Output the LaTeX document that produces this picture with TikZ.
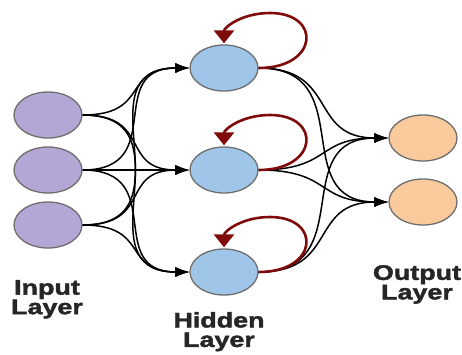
\documentclass[tikz,border=0pt]{standalone}
\usepackage{fontspec}
\usetikzlibrary{arrows.meta,shapes.geometric}
\newfontfamily\lblfont[FakeStretch=1.28,FakeBold=2]{Liberation Sans}
\definecolor{inpurple}{HTML}{B4A7D6}
\definecolor{hidblue}{HTML}{9FC5E8}
\definecolor{outorange}{HTML}{F9CB9C}
\definecolor{rimgray}{HTML}{6E6E6E}
\definecolor{loopred}{HTML}{7F0A0A}
\tikzset{
  neuron/.style={ellipse, draw=rimgray, line width=1.3pt, minimum width=68pt, minimum height=46pt, inner sep=0pt},
  inneuron/.style={neuron, fill=inpurple},
  hidneuron/.style={neuron, fill=hidblue},
  outneuron/.style={neuron, fill=outorange},
  link/.style={line width=1.5pt, -{Latex[length=14pt,width=10pt]}},
  recur/.style={draw=loopred, line width=2.6pt, -{Triangle[length=13pt,width=20pt]}},
  layerlabel/.style={font=\lblfont\bfseries\fontsize{21}{19.5}\selectfont, align=center, inner sep=0pt, anchor=north, text=black!85}
}
\begin{document}
\begin{tikzpicture}[x=1pt, y=-1pt]
  \useasboundingbox[fill=white] (0,0) rectangle (462,354);

  % input layer
  \node[inneuron] (i1) at (48,115) {};
  \node[inneuron] (i2) at (48,170) {};
  \node[inneuron] (i3) at (48,225) {};

  % hidden layer
  \node[hidneuron] (h1) at (224,68) {};
  \node[hidneuron] (h2) at (224,170) {};
  \node[hidneuron] (h3) at (224,272) {};

  % output layer
  \node[outneuron] (o1) at (423,138) {};
  \node[outneuron] (o2) at (423,202) {};

  % input -> hidden connections
  \foreach \i in {i1,i2,i3}
    \foreach \h in {h1,h2,h3}
      \draw[link] (\i.east) to[out=0,in=180,looseness=1.5] (\h.west);

  % hidden -> output connections
  \foreach \h in {h1,h2,h3}
    \foreach \o in {o1,o2}
      \draw[link] (\h.east) to[out=0,in=180,looseness=1.4] (\o.west);

  % recurrent self-loops
  \foreach \h in {h1,h2,h3}
    \draw[recur] (\h.east) .. controls +(60,0) and +(52,0) .. ([shift={(46,-55)}]\h.center)
                 .. controls +(-28,0) and +(0,-16) .. ([yshift=1pt]\h.north);

  % layer captions
  \node[layerlabel] (li) at (47,280) {Input\\Layer};
  \node[layerlabel] (lh) at (219,312) {Hidden\\Layer};
  \node[layerlabel] (lo) at (417,265) {Output\\Layer};
\end{tikzpicture}
\end{document}
